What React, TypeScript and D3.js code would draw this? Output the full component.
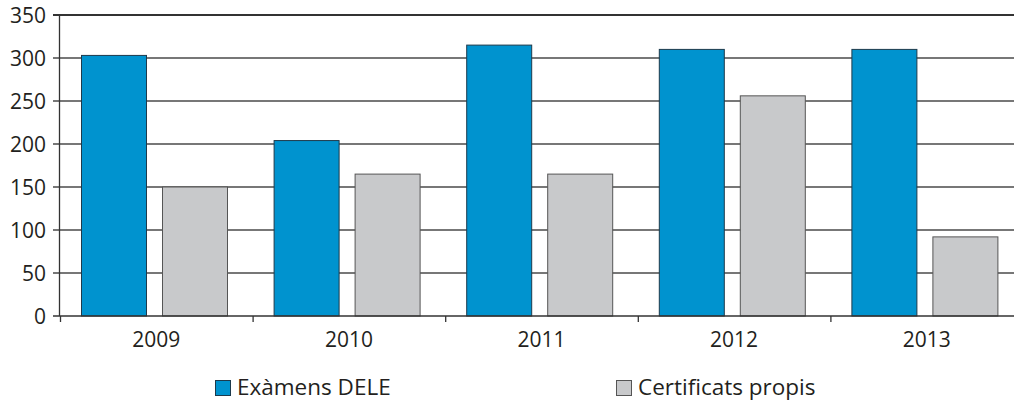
import React from "react";
import * as d3 from "d3";

const years = ["2009", "2010", "2011", "2012", "2013"];
const seriesNames = ["Exàmens DELE", "Certificats propis"];
const deleValues = [303, 204, 315, 310, 310];
const propisValues = [150, 165, 165, 256, 92];
const yTicks = [0, 50, 100, 150, 200, 250, 300, 350];
const colors = ["#0093CF", "#C8C9CB"];
const strokes = ["#1d3a4c", "#555555"];

const W = 1014;
const H = 403;
const FONT = "'Open Sans', 'Noto Sans', sans-serif";

export default function App() {
  const x = d3.scaleBand<string>().domain(years).range([60, 1023]);
  const y = d3.scaleLinear().domain([0, 350]).range([316, 15]);
  const x1 = d3
    .scaleBand<string>()
    .domain(seriesNames)
    .range([21.5, 21.5 + 146])
    .paddingInner(16 / 81);
  const values = [deleValues, propisValues];
  const bw = x1.bandwidth();

  return (
    <svg
      width={W}
      height={H}
      style={{ position: "absolute", left: 0, top: 0, background: "#fff" }}
      fontFamily={FONT}
    >
      {/* gridlines */}
      {yTicks.map((t) =>
        t === 0 ? null : (
          <line
            key={"g" + t}
            x1={53}
            x2={W}
            y1={y(t)}
            y2={y(t)}
            stroke={t === 350 ? "#333" : "#4a4a4a"}
            strokeWidth={t === 350 ? 2 : 1.3}
          />
        )
      )}
      {/* bars */}
      {years.map((yr, i) =>
        seriesNames.map((s, j) => {
          const v = values[j][i];
          const bx = (x(yr) as number) + (x1(s) as number);
          return (
            <rect
              key={yr + s}
              x={bx}
              y={y(v)}
              width={bw}
              height={y(0) - y(v)}
              fill={colors[j]}
              stroke={strokes[j]}
              strokeWidth={1}
            />
          );
        })
      )}
      {/* y axis */}
      <line x1={59.5} x2={59.5} y1={15} y2={316} stroke="#333" strokeWidth={1.3} />
      {/* x axis */}
      <line x1={53} x2={W} y1={316} y2={316} stroke="#333" strokeWidth={1.3} />
      {years.map((yr) => (
        <line
          key={"t" + yr}
          x1={(x(yr) as number) + 0.5}
          x2={(x(yr) as number) + 0.5}
          y1={316}
          y2={322}
          stroke="#333"
          strokeWidth={1.3}
        />
      ))}
      {/* y labels */}
      {yTicks.map((t) => (
        <text
          key={"yl" + t}
          x={46}
          y={y(t)}
          dy="0.36em"
          textAnchor="end"
          fontSize={21}
          fill="#231f20"
        >
          {t}
        </text>
      ))}
      {/* x labels */}
      {years.map((yr) => (
        <text
          key={"xl" + yr}
          x={(x(yr) as number) + x.bandwidth() / 2}
          y={347}
          textAnchor="middle"
          fontSize={21}
          fill="#231f20"
        >
          {yr}
        </text>
      ))}
      {/* legend */}
      {seriesNames.map((s, j) => {
        const lx = j === 0 ? 215 : 616;
        return (
          <g key={"lg" + s}>
            <rect
              x={lx + 0.5}
              y={380.5}
              width={15}
              height={15}
              fill={colors[j]}
              stroke={strokes[j]}
              strokeWidth={1}
            />
            <text x={lx + 22} y={395} fontSize={22.5} fill="#231f20">
              {s}
            </text>
          </g>
        );
      })}
    </svg>
  );
}
